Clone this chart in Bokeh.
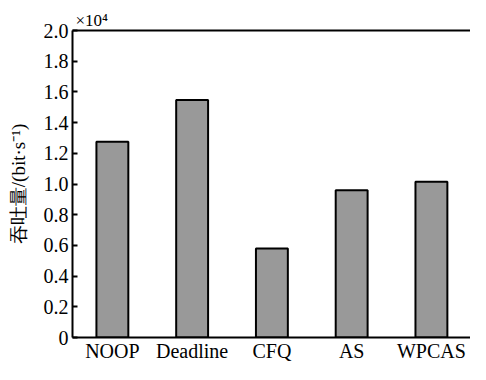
from bokeh.plotting import figure
from bokeh.models import Range1d, FixedTicker, LinearAxis
from bokeh.embed import file_html
from bokeh.resources import INLINE

categories = ["NOOP", "Deadline", "CFQ", "AS", "WPCAS"]
throughput = [12750, 15480, 5800, 9600, 10150]
y_ticks = [0, 2000, 4000, 6000, 8000, 10000, 12000, 14000, 16000, 18000, 20000]
y_tick_labels = ["0", "0.2", "0.4", "0.6", "0.8", "1.0", "1.2", "1.4", "1.6", "1.8", "2.0"]
y_label = "吞吐量/(bit·s⁻¹)"
scale_label = "×10⁴"

FONT = "serif"
xs = list(range(len(categories)))

p = figure(width=470, height=364, output_backend="svg", toolbar_location=None,
           x_range=Range1d(-0.5, len(categories) - 0.51), y_range=Range1d(0, 20000),
           min_border_left=72, min_border_top=30, min_border_right=0, min_border_bottom=24,
           title=scale_label)
p.background_fill_color = "white"
p.border_fill_color = "white"
p.outline_line_color = None
p.xgrid.visible = False
p.ygrid.visible = False

p.title.text_font = FONT
p.title.text_font_style = "normal"
p.title.text_font_size = "17px"
p.title.text_color = "black"
p.title.align = "left"
p.title.offset = 3
p.title.standoff = 2

p.vbar(x=xs, top=throughput, width=0.4, fill_color="#999999",
       line_color="black", line_width=2)

xa = p.xaxis[0]
xa.ticker = FixedTicker(ticks=xs)
xa.major_label_overrides = {i: c for i, c in zip(xs, categories)}
xa.major_tick_in = 0
xa.major_tick_out = 0
xa.minor_tick_line_color = None
xa.axis_line_width = 2
xa.axis_line_color = "black"
xa.major_label_text_font = FONT
xa.major_label_text_font_size = "20px"
xa.major_label_text_color = "black"
xa.major_label_standoff = 2

ya = p.yaxis[0]
ya.ticker = FixedTicker(ticks=y_ticks)
ya.major_label_overrides = {t: l for t, l in zip(y_ticks, y_tick_labels)}
ya.major_tick_in = 5
ya.major_tick_out = 0
ya.major_tick_line_width = 2
ya.minor_tick_line_color = None
ya.axis_line_width = 2
ya.axis_line_color = "black"
ya.major_label_text_font = FONT
ya.major_label_text_font_size = "20px"
ya.major_label_text_color = "black"
ya.major_label_standoff = 4
ya.axis_label = y_label
ya.axis_label_text_font = FONT
ya.axis_label_text_font_style = "normal"
ya.axis_label_text_font_size = "19px"
ya.axis_label_text_color = "black"
ya.axis_label_standoff = 12

top = LinearAxis(ticker=FixedTicker(ticks=xs), major_label_text_color=None,
                 major_label_text_font_size="1px", major_label_standoff=0,
                 major_tick_in=0, major_tick_out=0, minor_tick_line_color=None,
                 axis_line_width=2, axis_line_color="black")
p.add_layout(top, "above")

open("out.html", "w").write(file_html(p, INLINE))
